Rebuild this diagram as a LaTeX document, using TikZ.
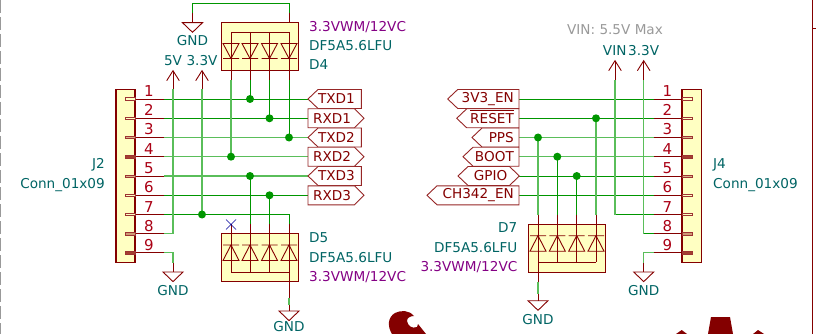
\documentclass[tikz,border=0pt]{standalone}
\usepackage{fontspec}
\setmainfont{DejaVu Sans}
\definecolor{wirecol}{RGB}{0,150,0}
\definecolor{wirelt}{RGB}{90,190,90}
\definecolor{pincol}{RGB}{132,0,0}
\definecolor{numcol}{RGB}{170,0,20}
\definecolor{fillcol}{RGB}{255,255,194}
\definecolor{refcol}{RGB}{0,100,100}
\definecolor{mpncol}{RGB}{132,0,132}
\newcommand{\schfont}{\fontsize{13.6}{14}\selectfont}
\tikzset{
	wire/.style={draw=wirecol, line width=0.8pt},
	wirel/.style={draw=wirelt, line width=1.3pt},
	pin/.style={draw=pincol, line width=0.9pt},
	body/.style={draw=pincol, fill=fillcol, line width=1.4pt},
	pack/.style={draw=pincol, fill=fillcol, line width=1pt},
	tag/.style={draw=pincol!85, line width=0.9pt, fill=white, line join=miter},
	tagtext/.style={text=pincol, font=\schfont, inner sep=0pt},
	num/.style={text=numcol, font=\fontsize{15}{15}\selectfont, inner sep=0pt},
	ref/.style={text=refcol, font=\schfont, inner sep=0pt},
	mpn/.style={text=mpncol, font=\schfont, inner sep=0pt},
	note/.style={text=black!40, font=\schfont, inner sep=0pt},
	dot/.style={circle, fill=wirecol, draw=none, inner sep=0pt, minimum size=8pt}
}
% ground symbol, top at #1
\newcommand{\gndsym}[1]{\draw[pin] (#1) ++(-10,0) -- ++(20,0) -- ++(-10,9.6) -- cycle;}
% power arrow, tip at #1
\newcommand{\pwrsym}[1]{\draw[pin] (#1) ++(-6.3,10) -- ++(6.3,-10) -- ++(6.3,10);}
% diode pointing down, #1 = bar centre
\newcommand{\diodedn}[1]{\draw[pin] (#1) ++(-8,0) -- ++(16,0) (#1) ++(-8,-15) -- ++(16,0) -- ++(-8,15) -- cycle;}
% diode pointing up, #1 = bar centre
\newcommand{\diodeup}[1]{\draw[pin] (#1) ++(-8,0) -- ++(16,0) (#1) ++(-8,15.5) -- ++(16,0) -- ++(-8,-15.5) -- cycle;}
\begin{document}
\begin{tikzpicture}[x=1pt,y=-1pt]
	\useasboundingbox (0,0) rectangle (816,334);

	% left connector J2
	\coordinate (pa1) at (164,99);
	\coordinate (pa2) at (164,118.3);
	\coordinate (pa3) at (164,137.5);
	\coordinate (pa4) at (164,156.7);
	\coordinate (pa5) at (164,176);
	\coordinate (pa6) at (164,195.3);
	\coordinate (pa7) at (164,214.5);
	\coordinate (pa8) at (164,233.7);
	\coordinate (pa9) at (164,252.8);

	% right connector J4
	\coordinate (pb1) at (653.5,99);
	\coordinate (pb2) at (653.5,118.3);
	\coordinate (pb3) at (653.5,137.5);
	\coordinate (pb4) at (653.5,156.7);
	\coordinate (pb5) at (653.5,176);
	\coordinate (pb6) at (653.5,195.3);
	\coordinate (pb7) at (653.5,214.5);
	\coordinate (pb8) at (653.5,233.7);
	\coordinate (pb9) at (653.5,252.8);

	% junctions
	\coordinate (ja) at (250,99);
	\coordinate (jb) at (269.5,118.3);
	\coordinate (jc) at (289,137.5);
	\coordinate (jd) at (231,156.7);
	\coordinate (je) at (250,176);
	\coordinate (jf) at (269.5,195.3);
	\coordinate (jg) at (202,214.5);
	\coordinate (jh) at (596,118.3);
	\coordinate (ji) at (538,137.5);
	\coordinate (jj) at (557.3,156.7);
	\coordinate (jk) at (576.7,176);

	% wires, horizontal
	\draw[wire] (pa1) -- (308,99);
	\draw[wire] (pa2) -- (308,118.3);
	\draw[wirel] (pa3) -- (308,137.5);
	\draw[wirel] (pa4) -- (308,156.7);
	\draw[wirel] (pa5) -- (308,176);
	\draw[wire] (pa6) -- (308,195.3);
	\draw[wire] (pa7) -- (289,214.5) -- (289,224);
	\draw[wirel] (pa8) -- (173,233.7) -- (173,89);
	\draw[wirel] (pa9) -- (173,252.8) -- (173,263);
	\draw[wirel] (202,89) -- (jg);

	\draw[wire] (519,99) -- (pb1);
	\draw[wire] (519,118.3) -- (pb2);
	\draw[wirel] (519,137.5) -- (pb3);
	\draw[wirel] (519,156.7) -- (pb4);
	\draw[wire] (519,176) -- (pb5);
	\draw[wire] (519,195.3) -- (pb6);
	\draw[wire] (pb7) -- (615,214.5);
	\draw[wirel] (615,214.5) -- (615,80);
	\draw[wire] (pb8) -- (643.7,233.7);
	\draw[wirel] (643.7,233.7) -- (643.7,80);
	\draw[wirel] (pb9) -- (643.7,252.8) -- (643.7,263);

	% wires, vertical to the diode packs
	\draw[wirel] (231,80) -- (jd);
	\draw[wire] (250,80) -- (ja);
	\draw[wire] (269.5,80) -- (jb);
	\draw[wire] (289,80) -- (jc);
	\draw[wire] (250,224) -- (je);
	\draw[wire] (269.5,224) -- (jf);
	\draw[wirel] (538,214.5) -- (ji);
	\draw[wire] (557.3,214.5) -- (jj);
	\draw[wire] (576.7,214.5) -- (jk);
	\draw[wirel] (596,214.5) -- (jh);
	\draw[wire] (192.5,13) -- (192.5,3.5) -- (289,3.5) -- (289,13);
	\draw[wirel] (289,298) -- (289,305);
	\draw[wirel] (538,282) -- (538,294);

	\foreach \j in {ja,jb,jc,jd,je,jf,jg,jh,ji,jj,jk}
		\node[dot] at (\j) {};

	% connector bodies
	\draw[body] (116,89.5) rectangle (135,262.5);
	\draw[body] (682,89.5) rectangle (701.7,262.5);
	\foreach \i/\s in {1/0,2/0,3/30,4/75,5/30,6/0,7/0,8/40,9/75} {
		\draw[pin] (pa\i) -- (135,0 |- pa\i);
		\draw[pin] (pb\i) -- (682,0 |- pb\i);
		\draw[pincol!80, line width=0.6pt, fill=pincol!\s!fillcol] (125.5,0 |- pa\i) ++(0,-1.2) rectangle ++(9.5,2.4);
		\draw[pincol!80, line width=0.6pt, fill=pincol!\s!fillcol] (682,0 |- pb\i) ++(0,-1.2) rectangle ++(10,2.4);
		\path (pa\i) ++(-15,-2.5) node[num, anchor=base] (na\i) {\i};
		\path (pb\i) ++(14,-2.5) node[num, anchor=base] (nb\i) {\i};
	}
	\node[ref, anchor=east] (j2ref) at (105,165) {J2};
	\node[ref, anchor=east] (j2val) at (105,185) {Conn\_01x09};
	\node[ref, anchor=west] (j4ref) at (713,165) {J4};
	\node[ref, anchor=west] (j4val) at (713,185) {Conn\_01x09};

	% D4
	\draw[pin] (289,13) -- (289,22.7);
	\draw[pack] (221,22.7) rectangle (298.3,70.7);
	\foreach \x in {231,250,269.5,289} {
		\draw[pin] (\x,32) -- (\x,80);
		\diodedn{\x,58.5}
	}
	\draw[pin] (231,32) -- (289,32);
	\node[mpn, anchor=west] (d4mpn) at (309,27) {3.3VWM/12VC};
	\node[ref, anchor=west] (d4val) at (309,46) {DF5A5.6LFU};
	\node[ref, anchor=west] (d4ref) at (309,65) {D4};

	% D5
	\draw[pack] (221,233.3) rectangle (298.3,281.7);
	\foreach \x in {231,250,269.5,289} {
		\draw[pin] (\x,224.3) -- (\x,272);
		\diodeup{\x,245}
	}
	\draw[pin] (231,272) -- (289,272);
	\draw[pin] (289,272) -- (289,298);
	\draw[pin] (289,305) -- (289,311);
	\draw[blue!60!black, line width=0.7pt] (226,219.5) -- (236,229.5) (236,219.5) -- (226,229.5);
	\node[ref, anchor=west] (d5ref) at (309,238) {D5};
	\node[ref, anchor=west] (d5val) at (309,258) {DF5A5.6LFU};
	\node[mpn, anchor=west] (d5mpn) at (309,277) {3.3VWM/12VC};

	% D7
	\draw[pack] (528.3,224) rectangle (605.7,272);
	\foreach \x in {538,557.3,576.7,596} {
		\draw[pin] (\x,214.5) -- (\x,262.3);
		\diodeup{\x,235.7}
	}
	\draw[pin] (538,262.3) -- (596,262.3);
	\draw[pin] (538,262.3) -- (538,282);
	\draw[pin] (538,294) -- (538,300.7);
	\node[ref, anchor=east] (d7ref) at (517.5,228) {D7};
	\node[ref, anchor=east] (d7val) at (517.5,248) {DF5A5.6LFU};
	\node[mpn, anchor=east] (d7mpn) at (517.5,267) {3.3VWM/12VC};

	% power and ground
	\draw[pin] (192.5,13) -- (192.5,22.7);
	\gndsym{192.5,22.7}
	\node[ref] (gnda) at (192.5,41) {GND};
	\draw[pin] (173,263) -- (173,272);
	\gndsym{173,272}
	\node[ref] (gndb) at (173,291) {GND};
	\gndsym{289,311}
	\node[ref] (gndc) at (289,327) {GND};
	\gndsym{538,300.7}
	\node[ref] (gndd) at (538,320) {GND};
	\draw[pin] (643.7,263) -- (643.7,272);
	\gndsym{643.7,272}
	\node[ref] (gnde) at (643.7,291) {GND};

	\draw[pin] (173,70.7) -- (173,89);
	\pwrsym{173,70.7}
	\node[ref] (pwra) at (173,60.7) {5V};
	\draw[pin] (202,70.7) -- (202,89);
	\pwrsym{202,70.7}
	\node[ref] (pwrb) at (202,60.7) {3.3V};
	\draw[pin] (615,60.7) -- (615,80);
	\pwrsym{615,60.7}
	\node[ref] (pwrc) at (614.7,51) {VIN};
	\draw[pin] (643.7,60.7) -- (643.7,80);
	\pwrsym{643.7,60.7}
	\node[ref] (pwrd) at (643.7,51) {3.3V};
	\node[note] (vinmax) at (615,30) {VIN: 5.5V Max};

	% labels, left side
	\foreach \y/\t in {99/TXD1,137.5/TXD2,176/TXD3} {
		\draw[tag] (308,\y) -- ++(10,-9.5) -- (361.3,\y-9.5) -- (361.3,\y+9.5) -- (318,\y+9.5) -- cycle;
		\node[tagtext, anchor=east] at (355,\y) {\t};
	}
	\foreach \y/\t in {118.3/RXD1,156.7/RXD2,195.3/RXD3} {
		\draw[tag] (308,\y-9.5) -- (354.5,\y-9.5) -- (364,\y) -- (354.5,\y+9.5) -- (308,\y+9.5) -- cycle;
		\node[tagtext, anchor=west] at (313,\y) {\t};
	}

	% labels, right side
	\foreach \y/\xp/\t in {99/447.7/3V3\_EN,137.5/472/PPS,156.7/463/BOOT,195.3/427/CH342\_EN} {
		\draw[tag] (\xp,\y) -- ++(10,-9.5) -- (519,\y-9.5) -- (519,\y+9.5) -- (\xp+10,\y+9.5) -- cycle;
		\node[tagtext, anchor=east] at (514,\y) {\t};
	}
	\draw[tag] (456.7,118.3) -- ++(10,-9.5) -- (519,108.8) -- (519,127.8) -- (466.7,127.8) -- cycle;
	\node[tagtext, anchor=east] (resettxt) at (514,118.3) {RESET};
	\draw[pincol] (resettxt.west |- 0,110.5) -- (514,110.5);
	\draw[tag] (458,176) -- ++(10,-9.5) -- (509.5,166.5) -- (519.3,176) -- (509.5,185.5) -- (468,185.5) -- cycle;
	\node[tagtext, anchor=east] at (507.5,176) {GPIO};

	% logo pieces and sheet border
	\fill[pincol] (392,334) .. controls (387,326) and (388,317) .. (395,313) .. controls (401,310) and (409,310) .. (414,316) .. controls (410,316) and (407,318) .. (407,321) .. controls (408,326) and (412,329) .. (417,327) -- (418,324) -- (426,334) -- cycle;
	\fill[pincol] (711,317) -- (730,317) -- (733,334) -- (708,334) -- cycle;
	\fill[pincol] (676,334) -- (681.7,330) -- (687,334) -- cycle;
	\fill[pincol] (753,334) -- (758,330) -- (764,334) -- cycle;
	\draw[black!40, line width=1.2pt, dash pattern=on 13pt off 4pt] (0.5,0) -- (0.5,334);
	\draw[pincol, line width=0.9pt] (812.5,0) -- (812.5,334);
	\draw[pincol, line width=0.9pt] (812.5,28) -- (816,28);
\end{tikzpicture}
\end{document}
